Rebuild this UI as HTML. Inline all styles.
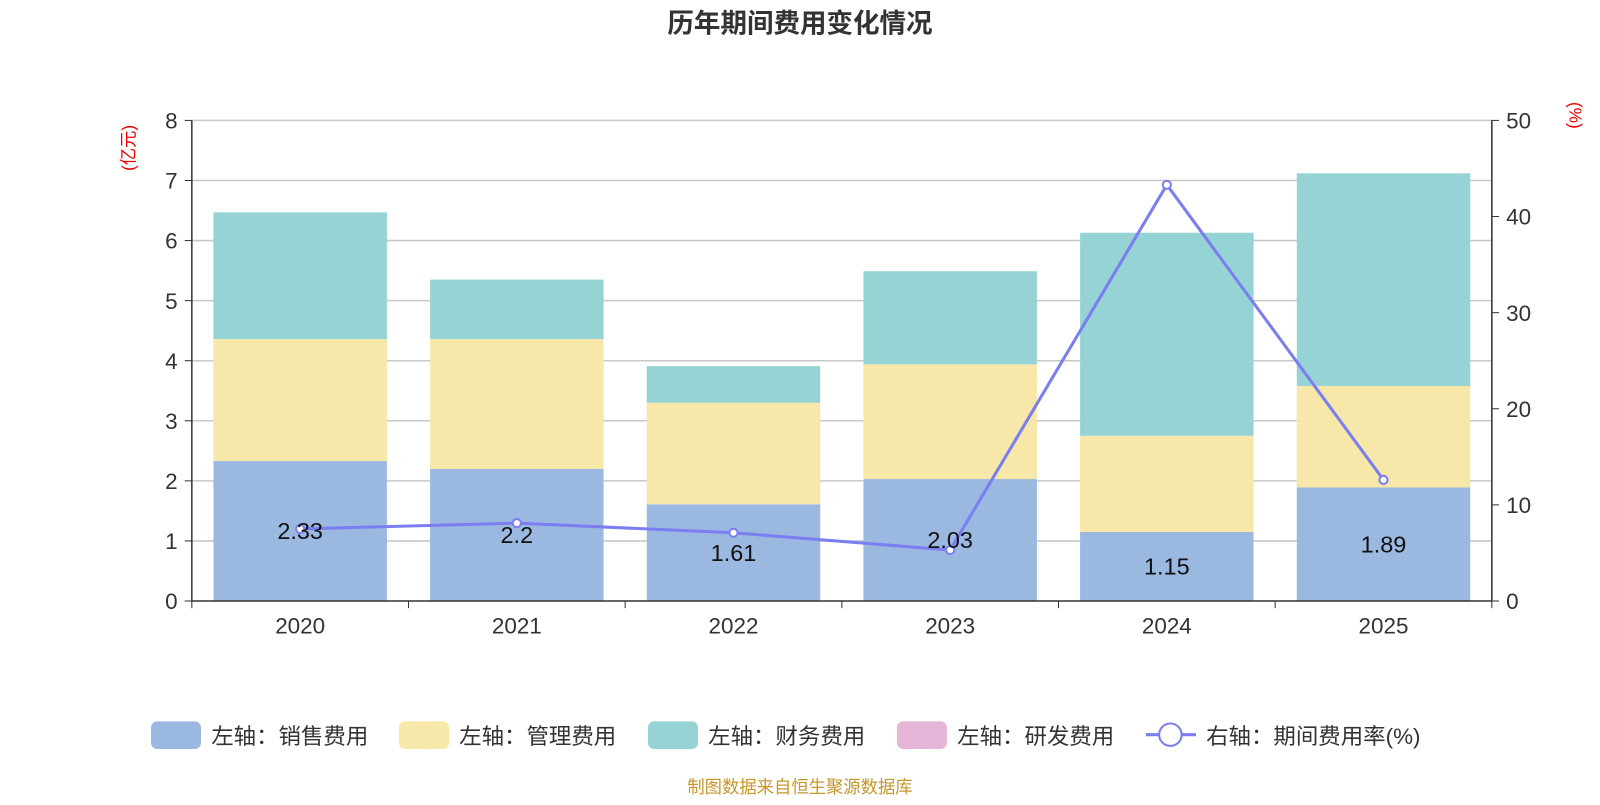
<!DOCTYPE html>
<html><head><meta charset="utf-8"><style>
body{margin:0;background:#fff;}
svg text{font-family:"Liberation Sans","Noto Sans CJK SC",sans-serif;}
</style></head><body>
<svg id="chart" width="1600" height="800" viewBox="0 0 1600 800" xmlns="http://www.w3.org/2000/svg">
<g transform="scale(1.0204)">
<text x="784" y="32" text-anchor="middle" font-size="26" font-weight="bold" fill="#333">历年期间费用变化情况</text>
<text transform="translate(132,145) rotate(-90)" text-anchor="middle" font-size="17" fill="#e00">(亿元)</text>
<text transform="translate(1538,113) rotate(90)" text-anchor="middle" font-size="17" fill="#e00">(%)</text>
<g id="grid"></g><g id="bars"></g><g id="axes"></g><g id="line"></g><g id="labels"></g>
<g font-size="22" fill="#333">
<g><rect x="148" y="707" width="49" height="27" rx="6" fill="#9bb8e0"/><text x="207" y="729">左轴：销售费用</text></g>
<g><rect x="391" y="707" width="49" height="27" rx="6" fill="#f7e7a8"/><text x="450" y="729">左轴：管理费用</text></g>
<g><rect x="635" y="707" width="49" height="27" rx="6" fill="#96d3d4"/><text x="694" y="729">左轴：财务费用</text></g>
<g><rect x="879" y="707" width="49" height="27" rx="6" fill="#e6b6d8"/><text x="938" y="729">左轴：研发费用</text></g>
<g><line x1="1123" y1="720" x2="1172" y2="720" stroke="#7b7ef0" stroke-width="3"/><circle cx="1147" cy="720" r="11" fill="#fff" stroke="#7b7ef0" stroke-width="2"/><text x="1182" y="729">右轴：期间费用率(%)</text></g>
</g>
<text x="784" y="777" text-anchor="middle" font-size="17" fill="#c8962a">制图数据来自恒生聚源数据库</text>
</g>
</svg>
<script>
const categories=["2020","2021","2022","2023","2024","2025"];
const sales=[2.33,2.2,1.61,2.03,1.15,1.89];
const admin=[2.03,2.16,1.69,1.91,1.60,1.69];
const finance=[2.11,0.99,0.61,1.55,3.38,3.54];
const rd=[0,0,0,0,0,0];
const rate=[7.5,8.1,7.1,5.3,43.3,12.6];
const leftTicks=[0,1,2,3,4,5,6,7,8];
const rightTicks=[0,10,20,30,40,50];
const NS="http://www.w3.org/2000/svg";
const x0=188,x1=1462,y0=589,y1=118;
const step=(x1-x0)/categories.length;
const yL=v=>y0-(v/8)*(y0-y1);
const yR=v=>y0-(v/50)*(y0-y1);
const xc=i=>x0+step*(i+0.5);
function mk(tag,attrs,parent){const e=document.createElementNS(NS,tag);for(const k in attrs)e.setAttribute(k,attrs[k]);document.getElementById(parent).appendChild(e);return e;}
leftTicks.forEach(t=>{
 if(t>0){const g=mk("line",{x1:x0,x2:x1,y1:yL(t),y2:yL(t),stroke:"#c8c8c8","stroke-width":1.5},"grid");
 
 }
 mk("line",{x1:x0-7,x2:x0,y1:yL(t),y2:yL(t),stroke:"#333"},"axes");
 const tx=mk("text",{x:x0-14,y:yL(t)+8,"text-anchor":"end","font-size":22,fill:"#333"},"axes");tx.textContent=t;
 
 
});
rightTicks.forEach(t=>{
 mk("line",{x1:x1,x2:x1+7,y1:yR(t),y2:yR(t),stroke:"#333"},"axes");
 const tx=mk("text",{x:x1+14,y:yR(t)+8,"font-size":22,fill:"#333"},"axes");tx.textContent=t;
 
 
});
mk("line",{x1:x0,x2:x0,y1:y1,y2:y0,stroke:"#333","stroke-width":1.5},"axes");
mk("line",{x1:x1,x2:x1,y1:y1,y2:y0,stroke:"#333","stroke-width":1.5},"axes");
mk("line",{x1:x0,x2:x1,y1:y0,y2:y0,stroke:"#333","stroke-width":1.5},"axes");
for(let i=0;i<=categories.length;i++)mk("line",{x1:x0+step*i,x2:x0+step*i,y1:y0,y2:y0+7,stroke:"#333"},"axes");
const bw=170;
categories.forEach((c,i)=>{
 const tx=mk("text",{x:xc(i),y:621,"text-anchor":"middle","font-size":22,fill:"#333"},"axes");tx.textContent=c;
 
 
 let base=0;
 [[sales,"#9bb8e0","sales"],[admin,"#f7e7a8","admin"],[finance,"#96d3d4","finance"],[rd,"#e6b6d8","rd"]].forEach(([arr,col,nm])=>{
  const v=arr[i];if(v<=0)return;
  const r=mk("rect",{x:xc(i)-bw/2,y:yL(base+v),width:bw,height:yL(base)-yL(base+v),fill:col},"bars");
  
  
  base+=v;
 });
 const lb=mk("text",{x:xc(i),y:(yL(sales[i])+y0)/2+8,"text-anchor":"middle","font-size":23,fill:"#111"},"labels");
 lb.textContent=sales[i];
 
 
});
const pl=mk("polyline",{points:rate.map((v,i)=>xc(i)+","+yR(v)).join(" "),fill:"none",stroke:"#7b7ef0","stroke-width":3},"line");


rate.forEach((v,i)=>{
 const p=mk("circle",{cx:xc(i),cy:yR(v),r:4,fill:"#fff",stroke:"#7b7ef0","stroke-width":2},"line");
 
 
});
</script>
</body></html>
